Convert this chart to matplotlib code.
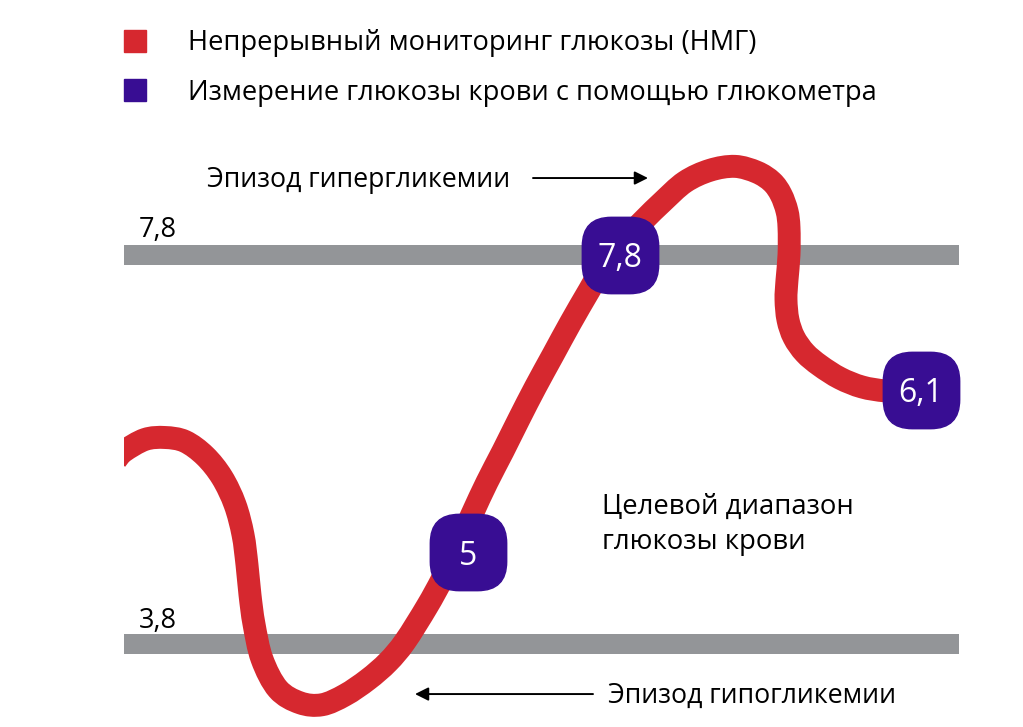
import numpy as np
import matplotlib
matplotlib.use("Agg")
import matplotlib.pyplot as plt
from matplotlib.lines import Line2D
from matplotlib.patches import FancyBboxPatch, Rectangle, PathPatch
from matplotlib.path import Path

plt.rcParams['font.family'] = ['Open Sans', 'DejaVu Sans']

RED = '#d6282f'
PURPLE = '#380d93'
GREY = '#939598'

# time axis (arbitrary units) and glucose, mmol/L
cgm_t = [1.16, 1.24, 1.45, 1.65, 1.85, 2.05, 2.22, 2.35, 2.43, 2.47,
         2.50, 2.54, 2.62, 2.78, 3.00, 3.22, 3.45, 3.68, 3.88, 4.05,
         4.27, 4.42, 4.55, 4.72, 4.87, 5.03, 5.19, 5.355, 5.53, 5.705,
         5.89, 6.08, 6.28, 6.45, 6.62, 6.85, 7.10, 7.35, 7.57, 7.72,
         7.81, 7.87, 7.89, 7.89, 7.87, 7.86, 7.88, 7.94, 8.05, 8.20,
         8.40, 8.62, 8.85, 9.05]
cgm_v = [5.69, 5.78, 5.90, 5.92, 5.88, 5.73, 5.51, 5.23, 4.92, 4.61,
         4.30, 4.00, 3.64, 3.33, 3.19, 3.17, 3.27, 3.43, 3.61, 3.82,
         4.18, 4.46, 4.74, 5.13, 5.46, 5.78, 6.11, 6.44, 6.77, 7.10,
         7.43, 7.76, 7.99, 8.17, 8.34, 8.55, 8.67, 8.71, 8.65, 8.55,
         8.42, 8.25, 8.08, 7.80, 7.54, 7.34, 7.13, 6.95, 6.79, 6.66,
         6.53, 6.44, 6.40, 6.40]

# fingerstick readings: where they sit on the sketch and what they say
meter_t = [4.685, 6.20, 9.205]
meter_v = [4.74, 7.80, 6.41]
meter_labels = ['5', '7,8', '6,1']

target_low, target_high = 3.8, 7.8
band_t = (1.24, 9.59)

legend_labels = ['Непрерывный мониторинг глюкозы (НМГ)',
                 'Измерение глюкозы крови с помощью глюкометра']


def smooth_path(xs, ys):
    # catmull-rom through the read points, drawn as cubic bezier segments
    p = np.column_stack([xs, ys])
    p = np.vstack([p[0], p, p[-1]])
    verts = [p[1]]
    codes = [Path.MOVETO]
    for i in range(1, len(p) - 2):
        c1 = p[i] + (p[i + 1] - p[i - 1]) / 6
        c2 = p[i + 1] - (p[i + 2] - p[i]) / 6
        verts += [c1, c2, p[i + 1]]
        codes += [Path.CURVE4] * 3
    return Path(verts, codes)


fig = plt.figure(figsize=(10.23, 7.27), dpi=100)
ax = fig.add_axes([0, 0, 1, 1])
ax.set_xlim(0, 10.23)
ax.set_ylim(2.941, 10.422)
ax.axis('off')

# target range limits
ax.hlines([target_high, target_low], *band_t, colors=GREY, lw=14.4,
          zorder=1, capstyle='butt')
ax.text(1.39, target_high + 0.185, '7,8', fontsize=19.5, va='baseline')
ax.text(1.39, target_low + 0.16, '3,8', fontsize=19.5, va='baseline')

# CGM trace
trace = PathPatch(smooth_path(cgm_t, cgm_v), fill=False, edgecolor=RED, lw=16.5,
                  capstyle='butt', joinstyle='round', zorder=2)
ax.add_patch(trace)
trace.set_clip_path(Rectangle((band_t[0], 0), 20, 20, transform=ax.transData))

# rounded square marker
box = FancyBboxPatch((-0.5, -0.5), 1, 1, boxstyle='round,pad=0,rounding_size=0.38')
rsq = box.get_path()
ax.plot(meter_t, meter_v, ls='none', marker=rsq, ms=55, color=PURPLE,
        mec=PURPLE, zorder=3)
for t, v, s in zip(meter_t, meter_v, meter_labels):
    ax.text(t, v, s, color='white', fontsize=23, ha='center', va='center_baseline',
            zorder=4)

# annotations
ax.text(2.07, 8.50, 'Эпизод гипергликемии', fontsize=19.2, va='baseline')
ax.annotate('', xy=(6.48, 8.59), xytext=(5.33, 8.59),
            arrowprops=dict(arrowstyle='-|>', color='black', lw=1.4,
                            mutation_scale=20, shrinkA=0, shrinkB=0))
ax.text(6.08, 3.19, 'Эпизод гипогликемии', fontsize=19.2, va='baseline')
ax.annotate('', xy=(4.15, 3.28), xytext=(5.93, 3.28),
            arrowprops=dict(arrowstyle='-|>', color='black', lw=1.4,
                            mutation_scale=20, shrinkA=0, shrinkB=0))
ax.text(6.02, 5.13, 'Целевой диапазон', fontsize=19.8, va='baseline')
ax.text(6.02, 4.77, 'глюкозы крови', fontsize=19.8, va='baseline')

handles = [Line2D([], [], ls='none', marker='s', ms=16, color=c) for c in (RED, PURPLE)]
fig.legend(handles, legend_labels, loc='upper left', bbox_to_anchor=(0.119, 0.960),
           frameon=False, fontsize=19.6, handlelength=1.0, handletextpad=1.42,
           labelspacing=0.8, borderpad=0, borderaxespad=0)

fig.savefig('out.png', dpi=100, facecolor='white')
